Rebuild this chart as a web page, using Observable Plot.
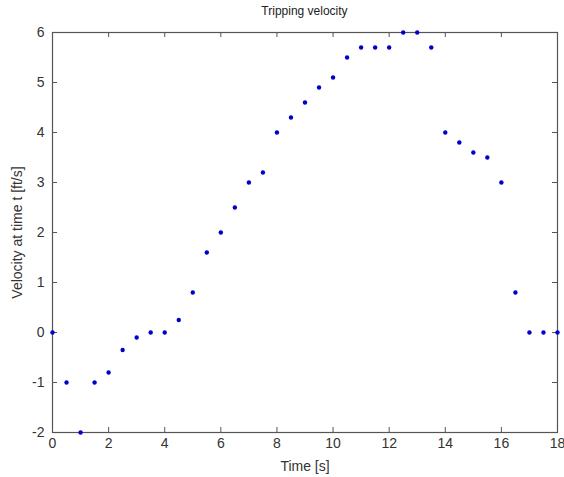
<!DOCTYPE html>
<html>
<head>
<meta charset="utf-8">
<script src="https://cdn.jsdelivr.net/npm/d3@7"></script>
<script src="https://cdn.jsdelivr.net/npm/@observablehq/plot@0.6"></script>
<style>
  html, body { margin: 0; padding: 0; background: #fff; }
  #chart { width: 564px; height: 477px; position: relative; }
  #title { position: absolute; top: 4px; left: 52px; width: 505px; text-align: center;
           font-family: "Liberation Sans", Arial, sans-serif; font-size: 12px; color: #222; }
</style>
</head>
<body>
<div id="chart"><div id="title">Tripping velocity</div></div>
<script>
const times = [0, 0.5, 1, 1.5, 2, 2.5, 3, 3.5, 4, 4.5, 5, 5.5, 6, 6.5, 7, 7.5, 8, 8.5, 9, 9.5,
  10, 10.5, 11, 11.5, 12, 12.5, 13, 13.5, 14, 14.5, 15, 15.5, 16, 16.5, 17, 17.5, 18];
const velocities = [0, -1, -2, -1, -0.8, -0.35, -0.1, 0, 0, 0.25, 0.8, 1.6, 2.0, 2.5, 3.0, 3.2, 4.0, 4.3, 4.6, 4.9,
  5.1, 5.5, 5.7, 5.7, 5.7, 6, 6, 5.7, 4.0, 3.8, 3.6, 3.5, 3.0, 0.8, 0, 0, 0];
const xTicks = [0, 2, 4, 6, 8, 10, 12, 14, 16, 18];
const yTicks = [-2, -1, 0, 1, 2, 3, 4, 5, 6];

const data = times.map((t, i) => ({t, v: velocities[i]}));

const W = 564, H = 477, mL = 52, mR = 7, mT = 32, mB = 45;
const innerW = W - mL - mR, innerH = H - mT - mB, tick = 5;
const font = "Liberation Sans, Arial, sans-serif";
const plot = Plot.plot({
  width: W,
  height: H,
  marginLeft: mL,
  marginRight: mR,
  marginTop: mT,
  marginBottom: mB,
  style: {fontFamily: font, fontSize: "13px", color: "#333", background: "#fff", overflow: "visible"},
  x: {domain: [0, 18]},
  y: {domain: [-2, 6]},
  marks: [
    Plot.tickX(xTicks, {x: d => d, insetTop: innerH - tick, stroke: "#555"}),
    Plot.tickX(xTicks, {x: d => d, insetBottom: innerH - tick, stroke: "#555"}),
    Plot.tickY(yTicks, {y: d => d, insetRight: innerW - tick, stroke: "#555"}),
    Plot.tickY(yTicks, {y: d => d, insetLeft: innerW - tick, stroke: "#555"}),
    Plot.frame({stroke: "#555", strokeWidth: 1.2}),
    Plot.axisX(xTicks, {anchor: "bottom", tickSize: 0, tickPadding: 6, fontSize: 14, fill: "#333",
      tickFormat: d => String(d),
      label: "Time [s]", labelAnchor: "center", labelArrow: "none", labelOffset: 38}),
    Plot.axisY(yTicks, {anchor: "left", tickSize: 0, tickPadding: 8, fontSize: 14, fill: "#333",
      tickFormat: d => String(d),
      label: "Velocity at time t [ft/s]", labelAnchor: "center", labelArrow: "none", labelOffset: 40}),
    Plot.dot(data, {x: "t", y: "v", r: 2.2, fill: "#0000c8", stroke: null})
  ]
});
document.getElementById("chart").appendChild(plot);
</script>
</body>
</html>
